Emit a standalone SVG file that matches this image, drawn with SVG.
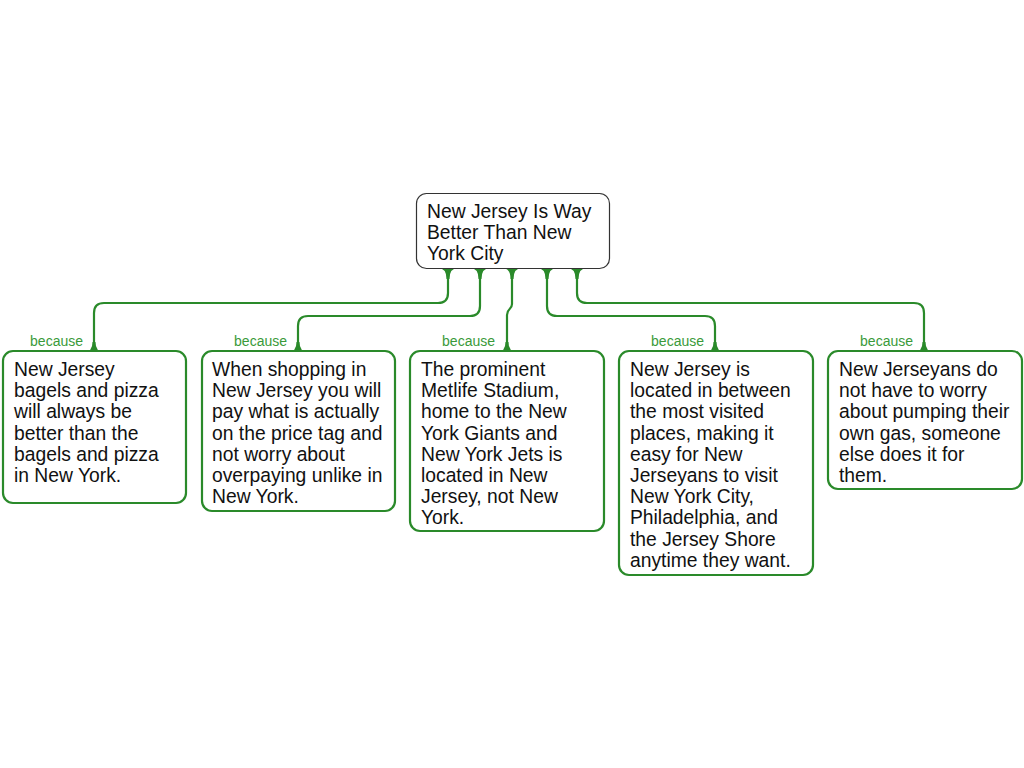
<svg xmlns="http://www.w3.org/2000/svg" width="1024" height="768" viewBox="0 0 1024 768">
<style>
.bg{fill:#ffffff}
.root{fill:#ffffff;stroke:#333333;stroke-width:1.2}
.box{fill:#ffffff;stroke:#2a8a2a;stroke-width:2.2}
.con{fill:none;stroke:#2a8a2a;stroke-width:2.2}
.flare{fill:#2a8a2a;stroke:none}
.t{font-family:"Liberation Sans",Arial,sans-serif;font-size:19.3px;fill:#111111}
.lbl{font-family:"Liberation Sans",Arial,sans-serif;font-size:14px;fill:#3a9a3a;text-anchor:end}
</style>
<rect class="bg" x="0" y="0" width="1024" height="768"/>
<g id="connectors">
<path class="con" d="M448 269 V293 Q448 303 438 303 H104 Q94 303 94 313 V351"/>
<path class="con" d="M480 269 V306 Q480 316 470 316 H308 Q298 316 298 326 V351"/>
<path class="con" d="M512 269 V304 C512 310 507 308 507 315 V351"/>
<path class="con" d="M547 269 V306 Q547 316 557 316 H705 Q715 316 715 326 V351"/>
<path class="con" d="M577 269 V293 Q577 303 587 303 H914 Q924 303 924 313 V351"/>
<path class="flare" d="M438 268 Q446.5 268 446.5 279 L449.5 279 Q449.5 268 458 268 Z"/>
<path class="flare" d="M470 268 Q478.5 268 478.5 279 L481.5 279 Q481.5 268 490 268 Z"/>
<path class="flare" d="M502 268 Q510.5 268 510.5 279 L513.5 279 Q513.5 268 522 268 Z"/>
<path class="flare" d="M537 268 Q545.5 268 545.5 279 L548.5 279 Q548.5 268 557 268 Z"/>
<path class="flare" d="M567 268 Q575.5 268 575.5 279 L578.5 279 Q578.5 268 587 268 Z"/>
<path class="flare" d="M84 352 Q92.5 352 92.5 342 L95.5 342 Q95.5 352 104 352 Z"/>
<path class="flare" d="M288 352 Q296.5 352 296.5 342 L299.5 342 Q299.5 352 308 352 Z"/>
<path class="flare" d="M497 352 Q505.5 352 505.5 342 L508.5 342 Q508.5 352 517 352 Z"/>
<path class="flare" d="M705 352 Q713.5 352 713.5 342 L716.5 342 Q716.5 352 725 352 Z"/>
<path class="flare" d="M914 352 Q922.5 352 922.5 342 L925.5 342 Q925.5 352 934 352 Z"/>
<text class="lbl" x="83" y="346">because</text>
<text class="lbl" x="287" y="346">because</text>
<text class="lbl" x="495" y="346">because</text>
<text class="lbl" x="704" y="346">because</text>
<text class="lbl" x="913" y="346">because</text>
</g>
<g id="root">
<rect class="root" x="416.5" y="193.5" width="193" height="75" rx="10"/>
<text class="t"><tspan x="427" y="218">New Jersey Is Way</tspan><tspan x="427" y="239">Better Than New</tspan><tspan x="427" y="260">York City</tspan></text>
</g>
<g id="child1">
<rect class="box" x="3" y="351" width="183" height="152" rx="10"/>
<text class="t"><tspan x="14" y="376">New Jersey</tspan><tspan x="14" y="397.2">bagels and pizza</tspan><tspan x="14" y="418.4">will always be</tspan><tspan x="14" y="439.6">better than the</tspan><tspan x="14" y="460.8">bagels and pizza</tspan><tspan x="14" y="482">in New York.</tspan></text>
</g>
<g id="child2">
<rect class="box" x="202" y="351" width="193" height="160" rx="10"/>
<text class="t"><tspan x="212" y="376">When shopping in</tspan><tspan x="212" y="397.2">New Jersey you will</tspan><tspan x="212" y="418.4">pay what is actually</tspan><tspan x="212" y="439.6">on the price tag and</tspan><tspan x="212" y="460.8">not worry about</tspan><tspan x="212" y="482">overpaying unlike in</tspan><tspan x="212" y="503.2">New York.</tspan></text>
</g>
<g id="child3">
<rect class="box" x="410" y="351" width="194" height="180" rx="10"/>
<text class="t"><tspan x="421" y="376">The prominent</tspan><tspan x="421" y="397.2">Metlife Stadium,</tspan><tspan x="421" y="418.4">home to the New</tspan><tspan x="421" y="439.6">York Giants and</tspan><tspan x="421" y="460.8">New York Jets is</tspan><tspan x="421" y="482">located in New</tspan><tspan x="421" y="503.2">Jersey, not New</tspan><tspan x="421" y="524.4">York.</tspan></text>
</g>
<g id="child4">
<rect class="box" x="619" y="351" width="194" height="224" rx="10"/>
<text class="t"><tspan x="630" y="376">New Jersey is</tspan><tspan x="630" y="397.2">located in between</tspan><tspan x="630" y="418.4">the most visited</tspan><tspan x="630" y="439.6">places, making it</tspan><tspan x="630" y="460.8">easy for New</tspan><tspan x="630" y="482">Jerseyans to visit</tspan><tspan x="630" y="503.2">New York City,</tspan><tspan x="630" y="524.4">Philadelphia, and</tspan><tspan x="630" y="545.6">the Jersey Shore</tspan><tspan x="630" y="566.8">anytime they want.</tspan></text>
</g>
<g id="child5">
<rect class="box" x="828" y="351" width="194" height="138" rx="10"/>
<text class="t"><tspan x="839" y="376">New Jerseyans do</tspan><tspan x="839" y="397.2">not have to worry</tspan><tspan x="839" y="418.4">about pumping their</tspan><tspan x="839" y="439.6">own gas, someone</tspan><tspan x="839" y="460.8">else does it for</tspan><tspan x="839" y="482">them.</tspan></text>
</g>
</svg>
